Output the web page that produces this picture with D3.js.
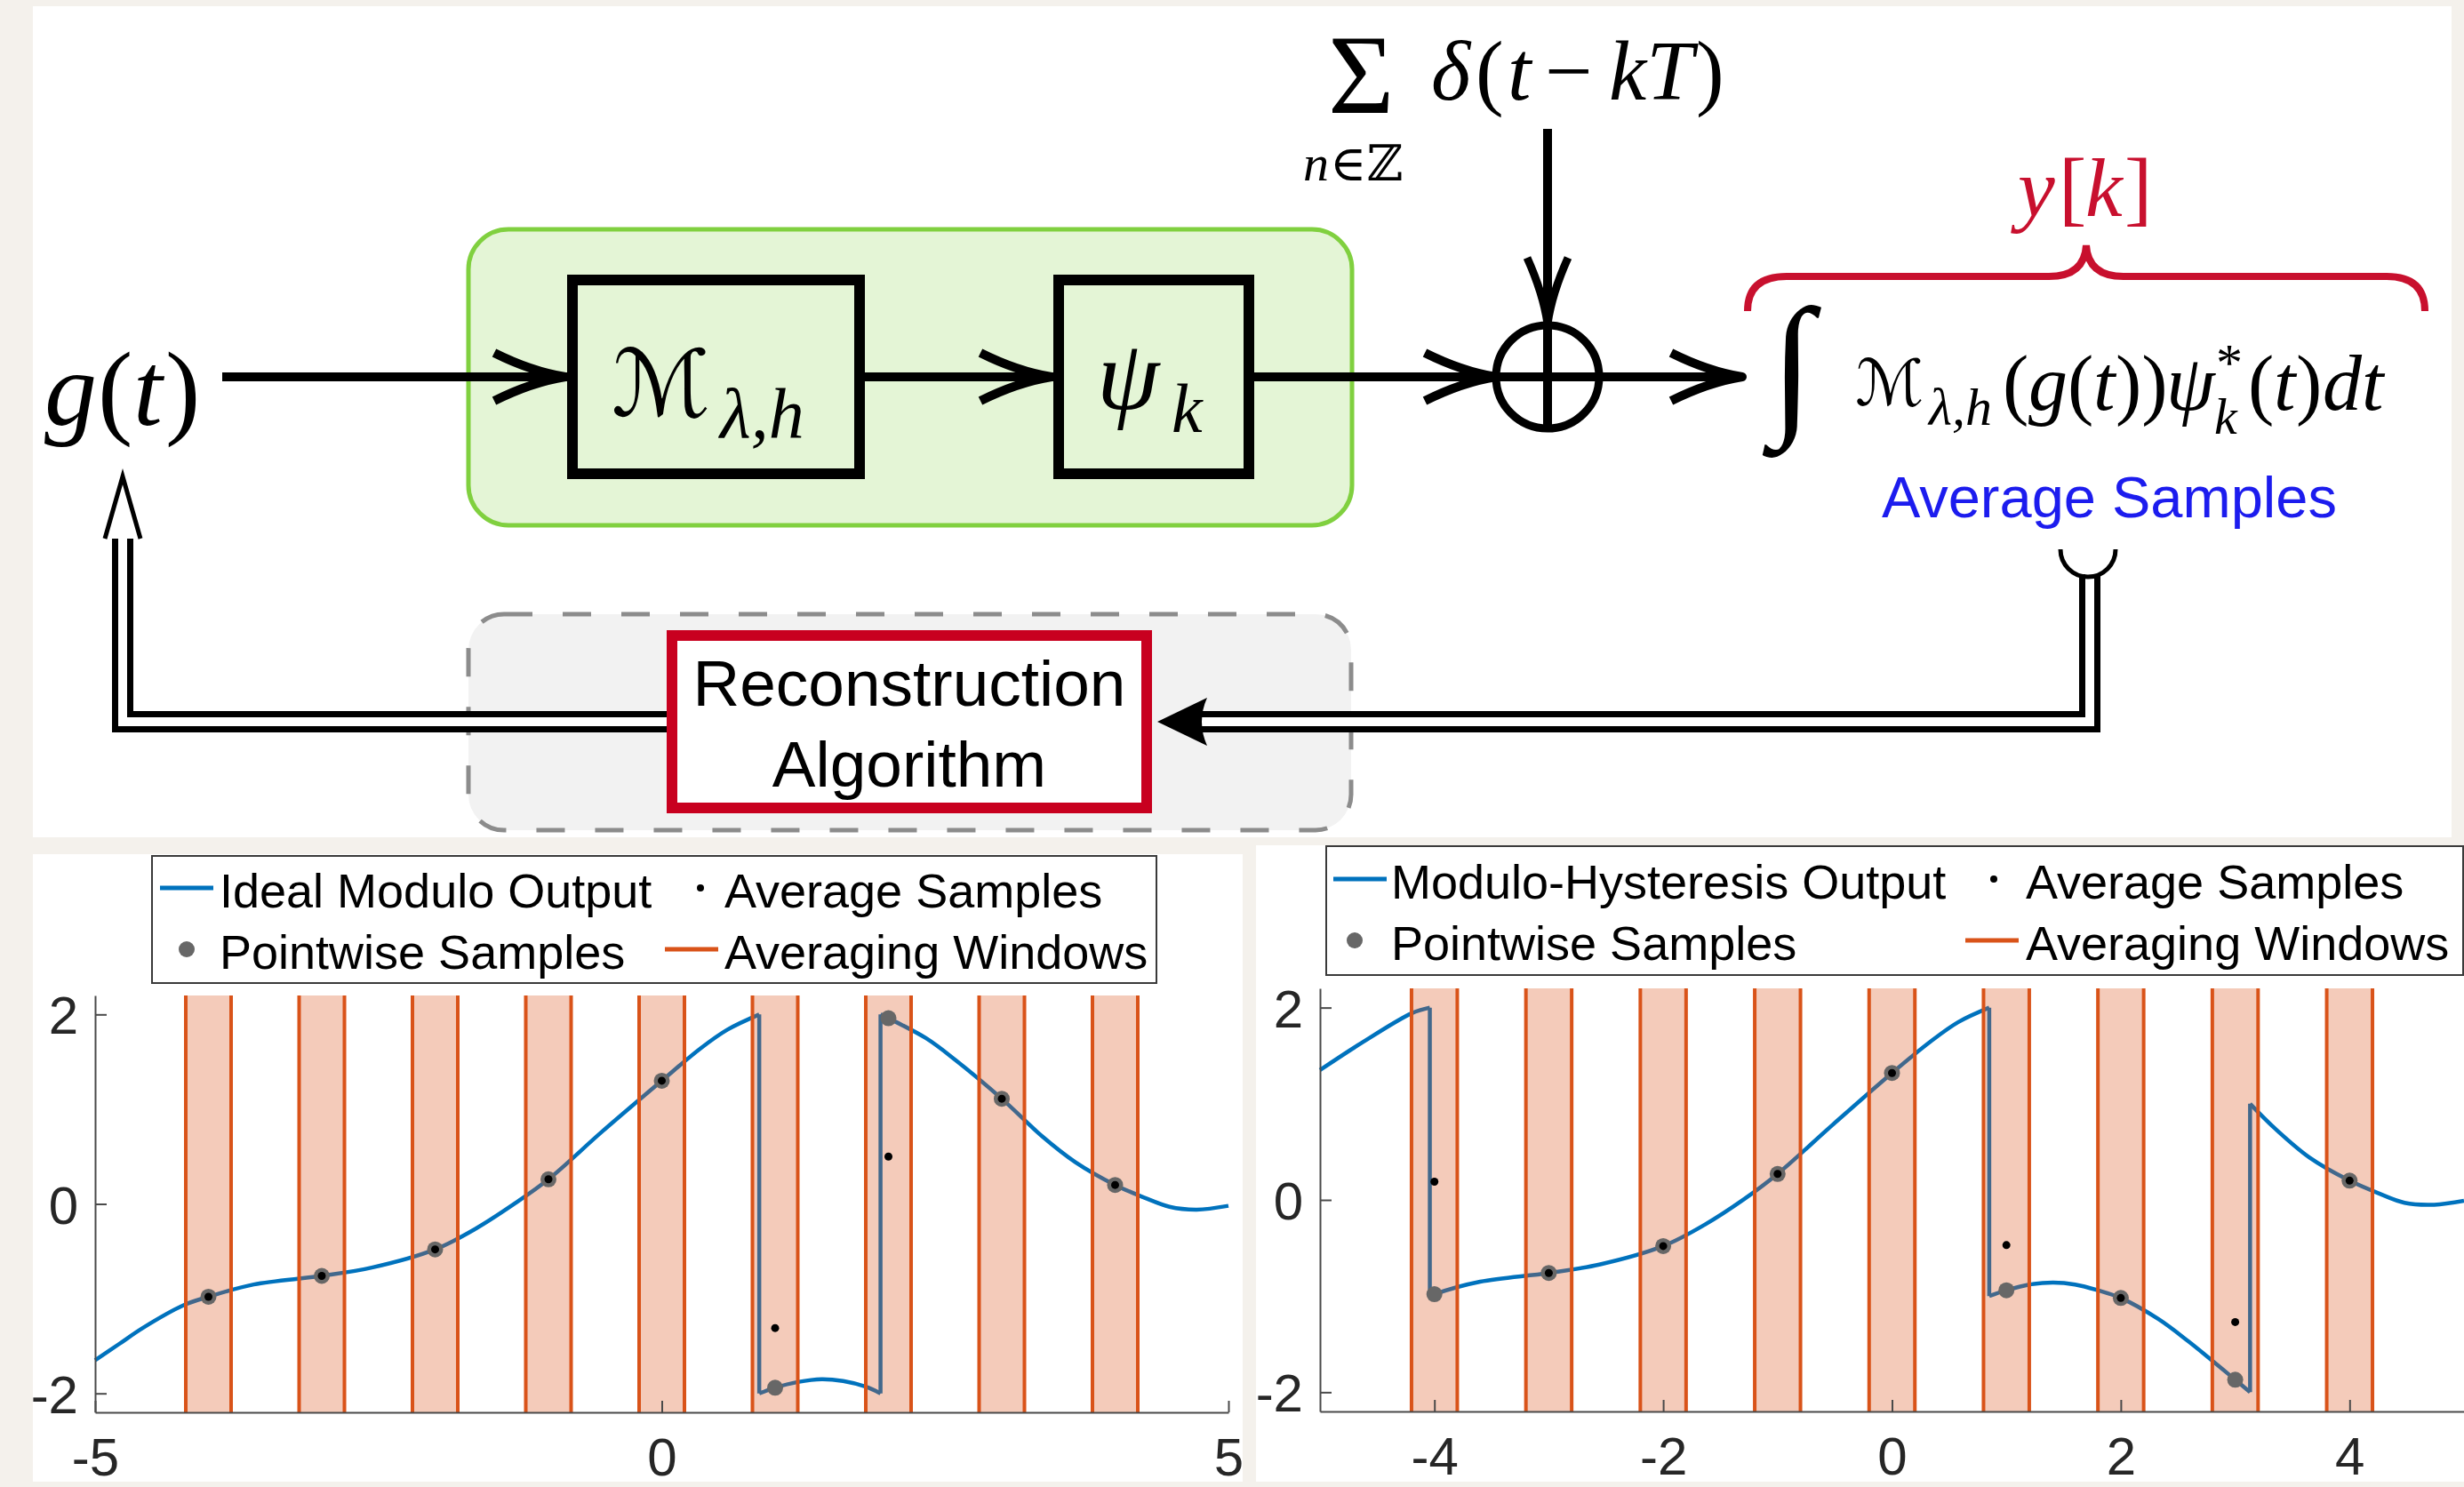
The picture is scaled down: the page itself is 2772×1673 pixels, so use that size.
<!DOCTYPE html>
<html lang="en">
<head>
<meta charset="UTF-8">
<title>Modulo sampling</title>
<script src="https://cdn.jsdelivr.net/npm/d3@7"></script>
<style>
  body { margin: 0; background: #f4f1ec; }
  svg { display: block; }
</style>
</head>
<body>
<script>
// sampling instants and averaging windows, shared by both panels
const sampleTimes = [-4, -3, -2, -1, 0, 1, 2, 3, 4];
const windowWidth = 0.4;
const xTicksLeft = [-5, 0, 5];
const xTicksRight = [-4, -2, 0, 2, 4];
const yTicks = [-2, 0, 2];

// left panel: ideal modulo output, smooth pieces between folds [t, value]
const idealPieces = [
  [[-5, -1.65], [-4.79, -1.48], [-4.58, -1.31], [-4.22, -1.07], [-4, -0.98], [-3.6, -0.85], [-3, -0.76],
   [-2.55, -0.67], [-2, -0.48], [-1.64, -0.26], [-1.29, 0.01], [-1, 0.26], [-0.52, 0.77], [0, 1.30],
   [0.34, 1.64], [0.58, 1.84], [0.86, 2.0]],
  [[0.86, -2.0], [1.0, -1.94], [1.2, -1.88], [1.41, -1.85], [1.6, -1.87], [1.8, -1.93], [1.93, -2.0]],
  [[1.93, 2.0], [2.0, 1.96], [2.33, 1.75], [2.59, 1.52], [3.0, 1.11], [3.35, 0.72], [3.65, 0.44],
   [4.0, 0.20], [4.25, 0.07], [4.48, -0.03], [4.72, -0.06], [5.0, -0.02]]
];
const idealJumps = [[[0.86, 2.0], [0.86, -2.0]], [[1.93, -2.0], [1.93, 2.0]]];
const idealPointwise = [-0.98, -0.76, -0.48, 0.26, 1.30, -1.94, 1.96, 1.11, 0.20];
const idealAverage = [-0.98, -0.76, -0.48, 0.26, 1.30, -1.31, 0.50, 1.11, 0.20];

// right panel: modulo-hysteresis output
const hystPieces = [
  [[-5, 1.35], [-4.64, 1.63], [-4.2, 1.94], [-4.04, 2.0]],
  [[-4.04, -1.0], [-4, -0.98], [-3.6, -0.85], [-3, -0.76], [-2.55, -0.67], [-2, -0.48], [-1.64, -0.26],
   [-1.29, 0.01], [-1, 0.27], [-0.52, 0.78], [0, 1.32], [0.34, 1.65], [0.58, 1.85], [0.85, 2.0]],
  [[0.85, -1.0], [1.0, -0.94], [1.2, -0.88], [1.41, -0.86], [1.6, -0.88], [1.8, -0.94], [2.0, -1.02],
   [2.33, -1.24], [2.59, -1.47], [3.0, -1.87], [3.13, -2.0]],
  [[3.13, 1.0], [3.35, 0.74], [3.65, 0.44], [4.0, 0.20], [4.25, 0.07], [4.48, -0.03], [4.74, -0.05], [5.0, -0.01]]
];
const hystJumps = [[[-4.04, 2.0], [-4.04, -1.0]], [[0.85, 2.0], [0.85, -1.0]], [[3.13, -2.0], [3.13, 1.0]]];
const hystPointwise = [-0.98, -0.76, -0.48, 0.27, 1.32, -0.94, -1.02, -1.87, 0.20];
const hystAverage = [0.19, -0.76, -0.48, 0.27, 1.32, -0.47, -1.02, -1.27, 0.20];

const legendLeft = ["Ideal Modulo Output", "Average Samples", "Pointwise Samples", "Averaging Windows"];
const legendRight = ["Modulo-Hysteresis Output", "Average Samples", "Pointwise Samples", "Averaging Windows"];

const W = 2772, H = 1673;
const SANS = "'Liberation Sans', Arial, Helvetica, sans-serif";
const SERIF = "'Liberation Serif', 'Times New Roman', serif";
const SCRIPT = "'DejaVu Serif', 'DejaVu Sans', serif";
const BLUE = "#0072bd", ORANGE = "#d95319", RED = "#c8102e";

const svg = d3.select("body").append("svg")
  .attr("width", W).attr("height", H);

svg.append("rect").attr("width", W).attr("height", H).attr("fill", "#f4f1ec");
svg.append("rect").attr("x", 37).attr("y", 7).attr("width", 2721).attr("height", 935).attr("fill", "#fff");
svg.append("rect").attr("x", 37).attr("y", 961).attr("width", 1361).attr("height", 706).attr("fill", "#fff");
svg.append("rect").attr("x", 1413).attr("y", 951).attr("width", 1359).attr("height", 716).attr("fill", "#fff");

// ---------- block diagram ----------
const dg = svg.append("g");

dg.append("rect").attr("x", 527).attr("y", 258).attr("width", 994).attr("height", 333).attr("rx", 45)
  .attr("fill", "#e4f5d6").attr("stroke", "#80d03f").attr("stroke-width", 5);
dg.append("rect").attr("x", 527).attr("y", 691).attr("width", 993).attr("height", 243).attr("rx", 40)
  .attr("fill", "#f2f2f2").attr("stroke", "#8c8c8c").attr("stroke-width", 5).attr("stroke-dasharray", "32 34");

// boxes
dg.append("rect").attr("x", 644).attr("y", 315).attr("width", 323).attr("height", 218)
  .attr("fill", "none").attr("stroke", "#000").attr("stroke-width", 12);
dg.append("rect").attr("x", 1191).attr("y", 315).attr("width", 214).attr("height", 218)
  .attr("fill", "none").attr("stroke", "#000").attr("stroke-width", 12);

// signal path lines
const lineStyle = sel => sel.attr("stroke", "#000").attr("stroke-width", 10).attr("fill", "none");
[[250, 638], [973, 1185], [1411, 1960]].forEach(([a, b]) => {
  dg.append("line").attr("x1", a).attr("x2", b).attr("y1", 424).attr("y2", 424).call(lineStyle);
});
dg.append("line").attr("x1", 1741).attr("x2", 1741).attr("y1", 145).attr("y2", 484).call(lineStyle);
dg.append("circle").attr("cx", 1741).attr("cy", 424).attr("r", 58)
  .attr("fill", "none").attr("stroke", "#000").attr("stroke-width", 9);

function chevronRight(tx, ty) {
  dg.append("path")
    .attr("d", `M${tx - 80},${ty - 27} Q${tx - 38},${ty - 6} ${tx},${ty} Q${tx - 38},${ty + 6} ${tx - 80},${ty + 27}`)
    .call(lineStyle).attr("stroke-linejoin", "round");
}
function chevronDown(tx, ty) {
  dg.append("path")
    .attr("d", `M${tx - 23},${ty - 74} Q${tx - 5},${ty - 34} ${tx},${ty} Q${tx + 5},${ty - 34} ${tx + 23},${ty - 74}`)
    .call(lineStyle).attr("stroke-width", 9).attr("stroke-linejoin", "round");
}
chevronRight(636, 424);
chevronRight(1183, 424);
chevronRight(1683, 424);
chevronRight(1960, 424);
chevronDown(1741, 364);

// feedback double lines
function doubleLine(d) {
  dg.append("path").attr("d", d).attr("fill", "none").attr("stroke", "#000").attr("stroke-width", 24);
  dg.append("path").attr("d", d).attr("fill", "none").attr("stroke", "#fff").attr("stroke-width", 10);
}
doubleLine("M750,812 H138 V600");
dg.append("path").attr("d", "M118,606 L138,536 L158,606")
  .attr("fill", "#fff").attr("stroke", "#000").attr("stroke-width", 5);
doubleLine("M2351,646 V812 H1346");
dg.append("path").attr("d", "M1302,812 L1358,785 Q1346,812 1358,839 Z").attr("fill", "#000");
dg.append("path").attr("d", "M2318,618 A31,31 0 0 0 2380,618")
  .attr("fill", "none").attr("stroke", "#000").attr("stroke-width", 5);

// reconstruction box
dg.append("rect").attr("x", 756).attr("y", 715).attr("width", 534).attr("height", 194)
  .attr("fill", "#fff").attr("stroke", "#c8001f").attr("stroke-width", 12);
dg.append("text").attr("x", 1023).attr("y", 794).attr("text-anchor", "middle")
  .attr("font-family", SANS).attr("font-size", 73).text("Reconstruction");
dg.append("text").attr("x", 1023).attr("y", 885).attr("text-anchor", "middle")
  .attr("font-family", SANS).attr("font-size", 73).text("Algorithm");

// math labels, built from pieces [text, italic, font, size, x, y, colour]
function mathText(parts) {
  parts.forEach(p => {
    dg.append("text").attr("x", p[4]).attr("y", p[5])
      .attr("font-family", p[2]).attr("font-size", p[3])
      .attr("font-style", p[1] ? "italic" : "normal")
      .attr("fill", p[6] || "#000").text(p[0]);
  });
}
mathText([
  ["g", true, SERIF, 118, 50, 478], ["(", false, SERIF, 118, 110, 478],
  ["t", true, SERIF, 118, 150, 478], [")", false, SERIF, 118, 186, 478]
]);
mathText([
  ["\u2133", false, SCRIPT, 104, 688, 468],
  ["\u03bb,h", true, SERIF, 80, 810, 492]
]);
mathText([
  ["\u03c8", true, SERIF, 113, 1234, 460],
  ["k", true, SERIF, 78, 1318, 486]
]);
mathText([
  ["\u03a3", false, SERIF, 128, 1494, 127],
  ["\u03b4", true, SERIF, 95, 1610, 112], ["(", false, SERIF, 95, 1660, 112],
  ["t", true, SERIF, 95, 1696, 112], ["\u2212", false, SERIF, 95, 1738, 112],
  ["kT", true, SERIF, 95, 1810, 112], [")", false, SERIF, 95, 1908, 112],
  ["n", true, SERIF, 58, 1466, 203], ["\u2208\u2124", false, SCRIPT, 56, 1496, 203]
]);
mathText([
  ["y", true, SERIF, 94, 2270, 243, RED], ["[", false, SERIF, 94, 2316, 243, RED],
  ["k", true, SERIF, 94, 2346, 243, RED], ["]", false, SERIF, 94, 2390, 243, RED]
]);
dg.append("path")
  .attr("d", "M1966,350 Q1966,311 2010,311 L2305,311 Q2345,311 2347,276 Q2349,311 2389,311 L2685,311 Q2728,311 2728,350")
  .attr("fill", "none").attr("stroke", RED).attr("stroke-width", 8);
mathText([
  ["\u222b", false, SERIF, 175, 1992, 468],
  ["\u2133", false, SCRIPT, 72, 2087, 456],
  ["\u03bb,h", true, SERIF, 60, 2170, 478],
  ["(", false, SERIF, 88, 2253, 461], ["g", true, SERIF, 88, 2282, 461], ["(", false, SERIF, 88, 2326, 461],
  ["t", true, SERIF, 88, 2355, 461], ["))", false, SERIF, 88, 2380, 461],
  ["\u03c8", true, SERIF, 88, 2437, 461], ["*", false, SERIF, 60, 2493, 428], ["k", true, SERIF, 58, 2491, 488],
  ["(", false, SERIF, 88, 2529, 461], ["t", true, SERIF, 88, 2558, 461], [")", false, SERIF, 88, 2583, 461],
  ["dt", true, SERIF, 88, 2613, 461]
]);
dg.append("text").attr("x", 2117).attr("y", 582).attr("font-family", SANS).attr("font-size", 65)
  .attr("fill", "#1c1cee").text("Average Samples");

// ---------- plots ----------
function drawPlot(cfg) {
  const x = d3.scaleLinear().domain([-5, 5]).range([cfg.x0, cfg.x1]);
  const y = d3.scaleLinear().domain([-2.2, 2.2]).range([cfg.y1, cfg.y0]);
  const g = svg.append("g");
  const smooth = d3.line().x(d => x(d[0])).y(d => y(d[1])).curve(d3.curveCatmullRom.alpha(0.5));
  const straight = d3.line().x(d => x(d[0])).y(d => y(d[1]));

  g.selectAll(".piece").data(cfg.pieces).join("path").attr("class", "piece")
    .attr("d", smooth).attr("fill", "none").attr("stroke", BLUE).attr("stroke-width", 4.5);
  g.selectAll(".jump").data(cfg.jumps).join("path").attr("class", "jump")
    .attr("d", straight).attr("fill", "none").attr("stroke", BLUE).attr("stroke-width", 4.5)
    .attr("stroke-linejoin", "miter");

  // averaging windows (translucent, over the curve)
  g.selectAll(".win").data(sampleTimes).join("rect").attr("class", "win")
    .attr("x", d => x(d - windowWidth / 2)).attr("width", d => x(d + windowWidth / 2) - x(d - windowWidth / 2))
    .attr("y", cfg.y0).attr("height", cfg.y1 - cfg.y0)
    .attr("fill", ORANGE).attr("fill-opacity", 0.3);
  const edges = sampleTimes.flatMap(d => [d - windowWidth / 2, d + windowWidth / 2]);
  g.selectAll(".edge").data(edges).join("line").attr("class", "edge")
    .attr("x1", d => x(d)).attr("x2", d => x(d)).attr("y1", cfg.y0).attr("y2", cfg.y1)
    .attr("stroke", ORANGE).attr("stroke-width", 4);

  g.selectAll(".pt").data(cfg.pointwise).join("circle").attr("class", "pt")
    .attr("cx", (d, i) => x(sampleTimes[i])).attr("cy", d => y(d)).attr("r", 9).attr("fill", "#676767");
  g.selectAll(".avg").data(cfg.average).join("circle").attr("class", "avg")
    .attr("cx", (d, i) => x(sampleTimes[i])).attr("cy", d => y(d)).attr("r", 4.5).attr("fill", "#000");

  const yAxis = d3.axisLeft(y).tickValues(yTicks).tickSizeInner(-13).tickSizeOuter(0)
    .tickPadding(19).tickFormat(d => String(d));
  const xAxis = d3.axisBottom(x).tickValues(cfg.xTicks).tickSizeInner(-13).tickSizeOuter(0)
    .tickPadding(28).tickFormat(d => String(d));
  const ya = g.append("g").attr("transform", `translate(${cfg.x0},0)`).call(yAxis);
  const xa = g.append("g").attr("transform", `translate(0,${cfg.y1})`).call(xAxis);
  [ya, xa].forEach(a => {
    a.selectAll("path, line").attr("stroke", "#4a4a4a").attr("stroke-width", 2);
    a.selectAll("text").attr("font-family", SANS).attr("font-size", 60).attr("fill", "#262626");
  });
  ya.selectAll("text").attr("dy", "0.36em");
}

drawPlot({ x0: 107, x1: 1382, y0: 1120, y1: 1589, pieces: idealPieces, jumps: idealJumps,
  pointwise: idealPointwise, average: idealAverage, xTicks: xTicksLeft });
drawPlot({ x0: 1485, x1: 2772, y0: 1112, y1: 1588, pieces: hystPieces, jumps: hystJumps,
  pointwise: hystPointwise, average: hystAverage, xTicks: xTicksRight });

// ---------- legends ----------
function drawLegend(labels, box, pos) {
  const g = svg.append("g");
  g.append("rect").attr("x", box[0]).attr("y", box[1]).attr("width", box[2] - box[0]).attr("height", box[3] - box[1])
    .attr("fill", "#fff").attr("stroke", "#3a3a3a").attr("stroke-width", 2);
  const t = (s, px, py) => g.append("text").attr("x", px).attr("y", py)
    .attr("font-family", SANS).attr("font-size", 54).attr("fill", "#000").text(s);
  const [r1, r2] = pos.rows;
  g.append("line").attr("x1", pos.c1[0]).attr("x2", pos.c1[0] + 60).attr("y1", r1).attr("y2", r1)
    .attr("stroke", BLUE).attr("stroke-width", 5);
  t(labels[0], pos.c1[1], r1 + 22);
  g.append("circle").attr("cx", pos.c2[0]).attr("cy", r1).attr("r", 4).attr("fill", "#000");
  t(labels[1], pos.c2[1], r1 + 22);
  g.append("circle").attr("cx", pos.c3[0]).attr("cy", r2).attr("r", 9).attr("fill", "#676767");
  t(labels[2], pos.c3[1], r2 + 22);
  g.append("line").attr("x1", pos.c4[0]).attr("x2", pos.c4[0] + 60).attr("y1", r2).attr("y2", r2)
    .attr("stroke", ORANGE).attr("stroke-width", 5);
  t(labels[3], pos.c4[1], r2 + 22);
}
drawLegend(legendLeft, [171, 963, 1301, 1106],
  { rows: [999, 1068], c1: [180, 247], c2: [788, 815], c3: [210, 247], c4: [748, 815] });
drawLegend(legendRight, [1492, 952, 2771, 1097],
  { rows: [989, 1058], c1: [1500, 1565], c2: [2243, 2279], c3: [1524, 1565], c4: [2211, 2279] });
</script>
</body>
</html>
